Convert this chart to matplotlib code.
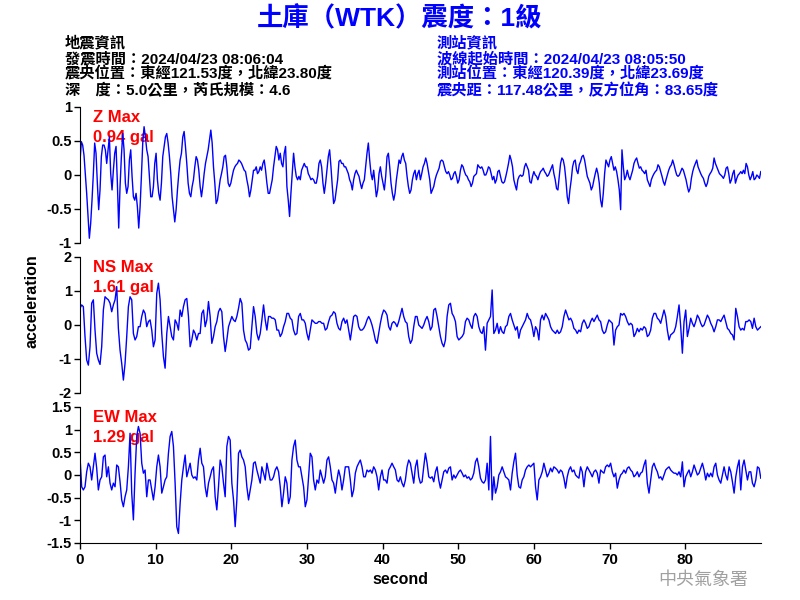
import matplotlib
matplotlib.use('Agg')
import matplotlib.pyplot as plt
import numpy as np

plt.rcParams['font.family'] = ['Liberation Sans', 'Noto Sans CJK TC']
plt.rcParams['axes.unicode_minus'] = False

TITLE = '土庫（WTK）震度：1級'
QUAKE_INFO = ['地震資訊',
              '發震時間：2024/04/23 08:06:04',
              '震央位置：東經121.53度，北緯23.80度',
              '深\u3000度：5.0公里，芮氏規模：4.6']
STATION_INFO = ['測站資訊',
                '波線起始時間：2024/04/23 08:05:50',
                '測站位置：東經120.39度，北緯23.69度',
                '震央距：117.48公里，反方位角：83.65度']

COMPONENTS = ['Z', 'NS', 'EW']
MAX_GAL = ['0.94', '1.61', '1.29']
Y_LIMITS = [1, 2, 1.5]
Y_TICKS = [[1, 0.5, 0, -0.5, -1],
           [2, 1, 0, -1, -2],
           [1.5, 1, 0.5, 0, -0.5, -1, -1.5]]
Y_TICK_LABELS = [['1', '0.5', '0', '-0.5', '-1'],
                 ['2', '1', '0', '-1', '-2'],
                 ['1.5', '1', '0.5', '0', '-0.5', '-1', '-1.5']]
X_TICKS = [0, 10, 20, 30, 40, 50, 60, 70, 80]
DURATION = 90  # seconds shown

# acceleration in gal at even steps over 0-90 s
Z_ACC = [
    0.20, 0.49, 0.44, 0.29, 0.02, -0.27, -0.61, -0.93, -0.71, -0.37,
    0.02, 0.47, 0.32, -0.12, -0.51, -0.22, 0.27, 0.44, 0.44, 0.37,
    0.17, 0.37, 0.56, 0.02, -0.22, 0.07, 0.32, 0.42, -0.12, -0.78,
    -0.17, 0.27, 0.61, 0.37, -0.12, -0.27, -0.17, 0.22, 0.37, -0.02,
    -0.32, -0.37, -0.27, -0.47, -0.78, -0.47, -0.02, 0.47, 0.71, 0.56,
    0.37, 0.27, -0.02, -0.32, -0.32, -0.17, 0.17, 0.32, -0.07, -0.27,
    -0.37, -0.12, 0.27, 0.42, 0.56, 0.61, 0.47, 0.27, 0.02, -0.32,
    -0.51, -0.69, -0.51, -0.22, 0.02, 0.22, 0.32, 0.56, 0.64, 0.42,
    0.17, -0.12, -0.27, -0.32, -0.17, -0.07, 0.12, 0.27, 0.22, 0.07,
    -0.17, -0.32, -0.17, 0.02, 0.17, 0.27, 0.37, 0.51, 0.66, 0.47,
    0.12, -0.12, -0.42, -0.37, -0.22, -0.07, 0.02, 0.12, 0.27, 0.29,
    0.12, -0.12, -0.17, -0.12, -0.02, 0.07, 0.12, 0.15, 0.17, 0.22,
    0.20, 0.17, 0.12, 0.07, 0.05, -0.07, -0.17, -0.32, -0.22, -0.07,
    0.07, 0.07, 0.12, 0.02, 0.05, 0.12, 0.07, 0.17, 0.22, 0.07,
    -0.12, -0.27, -0.27, -0.17, -0.07, 0.12, 0.27, 0.42, 0.37, 0.22,
    0.32, 0.17, 0.12, 0.32, 0.42, -0.17, -0.37, -0.61, -0.27, 0.02,
    0.32, 0.12, -0.02, -0.07, -0.02, -0.07, 0.07, 0.12, 0.17, 0.12,
    0.12, 0.02, -0.02, -0.07, -0.05, -0.07, -0.12, -0.12, -0.02, 0.17,
    0.22, 0.12, -0.12, -0.27, -0.12, 0.07, 0.27, 0.37, 0.12, -0.17,
    -0.42, -0.37, -0.22, -0.07, 0.20, 0.22, 0.17, 0.17, 0.12, 0.12,
    0.07, 0.02, -0.07, -0.12, -0.22, -0.07, 0.02, 0.07, 0.02, -0.02,
    -0.12, -0.20, -0.12, -0.07, 0.12, 0.32, 0.47, 0.22, 0.02, -0.07,
    0.07, -0.12, -0.32, -0.22, 0.02, 0.12, -0.02, -0.12, -0.22, -0.02,
    0.27, 0.32, 0.12, -0.12, -0.27, -0.37, -0.27, -0.07, 0.07, 0.22,
    0.17, 0.27, 0.32, 0.22, 0.17, -0.02, -0.17, -0.27, -0.22, -0.07,
    0.02, 0.07, -0.07, 0.02, 0.07,
    -0.07, 0.02, 0.12, 0.17, 0.25, 0.17, 0.05, -0.07, -0.27, -0.22,
    -0.17, -0.07, 0.00, 0.05, 0.10, 0.20, 0.22, 0.20, 0.12, 0.05,
    0.02, 0.05, 0.00, -0.07, -0.05, 0.02, 0.05, -0.02, -0.12, -0.07,
    0.07, 0.15, 0.12, 0.05, 0.00, -0.02, -0.07, -0.10, -0.17, -0.12,
    -0.02, 0.00, 0.02, 0.15, 0.12, 0.10, 0.12, 0.07, 0.00, 0.00,
    0.05, 0.12, 0.10, 0.02, -0.07, -0.02, -0.12, -0.07, 0.05, 0.07,
    -0.02, -0.10, -0.12, -0.10, -0.02, 0.07, 0.17, 0.29, 0.22, 0.12,
    -0.07, -0.15, -0.22, -0.07, -0.02, 0.00, -0.02, 0.00, 0.12, 0.17,
    0.12, 0.07, -0.10, -0.12, -0.02, 0.05, 0.00, -0.02, -0.07, 0.00,
    0.05, 0.07, 0.10, 0.05, 0.02, -0.02, 0.00, 0.05, 0.10, 0.15,
    0.02, -0.07, -0.20, -0.22, -0.02, 0.17, 0.25, 0.22, 0.12, -0.07,
    -0.32, -0.42, -0.22, -0.07, 0.12, 0.20, 0.22, 0.07, 0.02, 0.15,
    0.20, 0.27, 0.29, 0.22, 0.10, -0.02, -0.07, -0.12, -0.22, -0.17,
    -0.07, 0.02, 0.10, 0.02, -0.12, -0.37, -0.47, -0.27, 0.02, 0.22,
    0.17, 0.12, 0.22, 0.27, 0.17, 0.07, 0.12, 0.05, -0.07, -0.22,
    -0.51, 0.37, 0.12, -0.07, -0.02, 0.07, -0.02, -0.07, 0.00, 0.07,
    0.17, 0.22, 0.25, 0.17, 0.10, 0.12, 0.07, 0.05, 0.02, 0.07,
    -0.07, -0.12, -0.17, -0.07, -0.02, 0.02, 0.05, 0.07, 0.15, 0.12,
    0.05, -0.02, -0.10, -0.15, -0.07, 0.00, 0.07, 0.12, 0.15, 0.22,
    0.15, 0.07, 0.00, -0.02, 0.00, 0.05, 0.10, 0.07, 0.00, -0.07,
    -0.17, -0.25, -0.20, -0.05, 0.05, 0.12, 0.17, 0.22, 0.12, 0.07,
    0.02, -0.02, -0.05, -0.12, -0.17, -0.12, -0.02, 0.02, 0.05, 0.10,
    0.25, 0.17, 0.12, 0.07, 0.02, 0.00, -0.02, -0.05, 0.00, 0.10,
    0.12, 0.02, -0.12, -0.07, 0.02, 0.07, -0.12, -0.05, 0.00, 0.02,
    0.05, 0.02, 0.07, 0.02, 0.17, 0.12, 0.00, -0.07, -0.02, 0.05,
    -0.07, -0.05, 0.00, -0.02, -0.05, 0.05,
]

NS_ACC = [
    0.49, 0.59, 0.54, -0.34, -1.03, -1.18, -0.64, 0.64, 0.74, -0.15,
    -0.83, -1.03, -1.16, -0.64, 0.44, 0.83, 0.78, 0.74, 0.64, 0.39,
    0.59, 0.74, 1.13, -0.10, -0.74, -1.13, -1.62, -1.13, -0.34, 0.54,
    0.83, 0.74, -0.25, -0.44, -0.34, -0.05, -0.05, 0.25, 0.44, 0.34,
    -0.05, 0.10, 0.15, -0.15, -0.64, -0.44, 0.93, 1.23, 0.74, -0.25,
    -0.93, -1.27, -0.25, 0.25, -0.05, -0.34, -0.44, 0.15, 0.05, -0.15,
    0.44, 0.25, 0.54, 0.74, 0.78, 0.25, -0.64, -0.44, -0.15, -0.25,
    -0.44, -0.25, -0.25, 0.34, 0.44, -0.05, 0.15, 0.69, 0.25, -0.54,
    -0.34, -0.05, 0.10, 0.39, 0.49, 0.39, -0.34, -0.78, -0.44, -0.05,
    0.10, 0.25, 0.15, 0.10, 0.25, 0.49, 0.78, 0.64, -0.15, -0.44,
    -0.54, -0.74, -0.69, -0.05, 0.54, 0.25, -0.25, -0.44, -0.25, 0.15,
    0.59, 0.15, -0.15, 0.25, 0.25, 0.20, 0.20, 0.15, -0.15, -0.15,
    -0.34, -0.25, -0.05, 0.10, 0.34, 0.34, 0.20, 0.15, -0.15, -0.29,
    -0.25, 0.25, 0.34, 0.15, 0.15, 0.05, -0.25, -0.44, -0.15, 0.15,
    0.10, 0.05, 0.05, 0.10, 0.10, 0.05, 0.05, -0.15, -0.10, 0.10,
    0.25, 0.29, 0.39, 0.34, 0.05, -0.10, -0.15, 0.10, 0.20, 0.05,
    0.15, -0.15, -0.44, -0.10, 0.25, 0.29, 0.25, -0.05, -0.15, -0.15,
    -0.10, 0.00, 0.15, 0.25, 0.15, 0.00, -0.20, -0.44, -0.54, -0.25,
    0.05, 0.29, 0.44, 0.39, 0.29, -0.05, -0.15, 0.05, 0.10, 0.05,
    -0.05, 0.10, 0.29, 0.49, 0.25, 0.10, 0.05, -0.34, -0.54, -0.44,
    -0.05, 0.25, 0.25, 0.00,
    -0.05, -0.10, 0.00, 0.15, 0.25, 0.10, -0.15, -0.05, 0.44, 0.49,
    0.25, -0.05, -0.34, -0.54, -0.64, -0.44, 0.25, 0.59, 0.64, 0.34,
    0.25, 0.10, -0.34, -0.44, -0.39, -0.34, -0.25, 0.10, 0.20, 0.15,
    0.00, -0.10, 0.25, 0.34, 0.25, -0.05, -0.20, -0.25, -0.05, -0.74,
    0.05, 0.15, 0.25, 1.03, -0.25, -0.15, 0.05, -0.25, -0.05, -0.20,
    -0.25, -0.05, 0.00, 0.25, 0.34, 0.15, 0.00, -0.15, -0.05, -0.39,
    -0.15, -0.05, 0.05, 0.15, 0.34, 0.20, 0.15, -0.05, -0.34, -0.05,
    -0.15, -0.44, 0.15, 0.29, 0.15, 0.34, 0.25, 0.15, -0.05, -0.15,
    -0.20, -0.25, -0.15, -0.25, -0.20, -0.05, 0.25, 0.44, 0.29, 0.15,
    0.20, 0.10, -0.10, -0.15, -0.25, -0.15, -0.20, 0.05, 0.15, 0.05,
    -0.10, -0.05, 0.10, 0.20, 0.10, 0.20, 0.29, 0.15, 0.10, -0.15,
    -0.25, -0.20, 0.00, 0.15, 0.10, 0.05, -0.59, -0.15, -0.05, 0.00,
    0.34, 0.29, 0.34, 0.25, 0.10, 0.00, 0.05, 0.00, -0.34, -0.25,
    -0.10, -0.20, -0.10, -0.15, -0.05, -0.10, -0.34, -0.29, -0.15, 0.20,
    0.34, 0.34, 0.20, 0.15, 0.05, 0.25, 0.44, 0.25, -0.15, -0.44,
    -0.29, -0.25, -0.20, -0.05, 0.25, 0.59, -0.05, -0.83, 0.10, 0.44,
    -0.34, -0.10, 0.20, 0.05, -0.05, 0.10, 0.29, 0.20, 0.05, -0.05,
    0.00, 0.15, 0.29, 0.20, 0.05, -0.05, -0.20, -0.05, 0.15, 0.15,
    0.10, 0.20, 0.29, 0.10, -0.10, -0.15, -0.25, -0.29, -0.44, 0.49,
    0.25, -0.05, -0.15, -0.10, -0.15, 0.10, 0.10, 0.15, 0.10, -0.10,
    0.20, -0.05, -0.15, -0.10, -0.05,
]

EW_ACC = [
    0.40, -0.26, -0.33, -0.26, 0.07, 0.26, 0.18, -0.11, 0.18, 0.48,
    0.15, -0.33, -0.11, -0.04, 0.40, 0.44, -0.04, 0.18, -0.18, -0.33,
    -0.18, -0.26, 0.22, 0.18, -0.15, -0.55, -0.70, -0.48, -0.33, 0.18,
    0.92, -0.40, -0.99, 0.04, 0.85, 1.07, 0.92, 0.26, 0.04, 0.11,
    -0.48, -0.11, -0.11, -0.33, -0.55, -0.26, 0.18, 0.44, 0.18, -0.40,
    -0.26, -0.11, -0.04, 0.48, 0.85, 0.96, 0.63, -0.18, -1.14, -1.29,
    -0.63, -0.11, 0.18, 0.44, -0.04, 0.11, 0.26, 0.00, -0.07, -0.04,
    -0.11, 0.33, 0.59, 0.26, 0.18, -0.26, -0.48, -0.18, -0.04, 0.11,
    0.18, -0.48, -0.77, -0.26, 0.33, 0.18, -0.18, -0.48, 0.63, 0.85,
    0.77, -0.18, -0.55, -1.14, -0.55, 0.48, 0.55, 0.40, 0.33, 0.18,
    -0.26, -0.55, -0.33, -0.11, 0.26, 0.29, 0.11, -0.04, -0.18, 0.18,
    0.04, -0.11, 0.26, 0.07, -0.11, -0.11, -0.04, 0.11, 0.18, 0.07,
    -0.26, -0.70, -0.40, -0.04, -0.18, -0.63, -0.48, 0.33, 0.63, 0.77,
    0.33, 0.18, 0.18, -0.04, -0.26, -0.70, -0.55, -0.04, 0.48, 0.40,
    -0.11, -0.33, -0.11, -0.18, 0.11, -0.04, -0.18, -0.04, 0.33, 0.40,
    0.18, -0.11, -0.18, -0.40, -0.11, 0.11, -0.04, -0.33, -0.11, 0.18,
    0.18, 0.18, -0.11, -0.48, -0.33, 0.04, 0.18, 0.26, 0.33, 0.18,
    -0.04, -0.04, 0.11, 0.07, 0.11, 0.04, 0.18, 0.11, -0.04, -0.33,
    -0.04, 0.11, -0.11, -0.11, -0.18, 0.11, 0.18, 0.26, 0.18, 0.11,
    -0.11, -0.15, -0.04, -0.18, -0.26, -0.11, 0.18, 0.33, 0.26, 0.04,
    -0.18, 0.18, 0.33, -0.04,
    -0.18, -0.15, 0.18, 0.48, 0.26, -0.04, -0.07, -0.04, -0.15, 0.07,
    0.18, -0.11, -0.29, -0.11, 0.07, 0.11, 0.04, 0.15, 0.18, -0.11,
    0.00, -0.07, 0.00, 0.07, 0.11, 0.04, -0.04, 0.00, -0.07, -0.04,
    -0.11, -0.07, 0.04, 0.29, 0.37, 0.18, -0.07, -0.15, -0.18, -0.11,
    0.26, -0.33, 0.85, -0.55, -0.04, -0.40, -0.26, 0.00, 0.07, 0.18,
    0.07, -0.04, -0.07, -0.11, -0.33, 0.04, 0.29, 0.48, 0.00, -0.26,
    -0.29, -0.11, -0.04, 0.11, 0.18, 0.22, 0.18, 0.22, 0.26, -0.26,
    -0.55, -0.11, -0.04, 0.07, 0.26, 0.11, -0.04, 0.04, 0.15, 0.07,
    0.18, 0.15, 0.11, 0.04, 0.11, 0.07, -0.07, -0.29, -0.04, 0.11,
    0.18, 0.07, 0.11, 0.00, -0.04, -0.07, 0.18, 0.07, -0.26, 0.07,
    0.18, 0.11, 0.04, -0.04, 0.07, 0.11, 0.04, -0.18, 0.11, 0.07,
    0.04, 0.18, 0.22, 0.18, 0.26, 0.07, -0.04, 0.04, -0.29, -0.11,
    0.00, 0.04, 0.11, 0.04, 0.15, 0.18, 0.11, 0.07, -0.04, 0.00,
    0.07, -0.04, 0.04, 0.07, 0.22, 0.33, -0.18, -0.40, -0.11, 0.18,
    0.26, 0.15, 0.07, -0.07, -0.04, -0.11, 0.00, 0.11, 0.15, 0.18,
    0.11, 0.07, 0.04, 0.04, 0.00, 0.07, -0.04, 0.29, -0.26, -0.04,
    0.04, 0.11, -0.04, 0.07, 0.22, 0.11, 0.00, 0.04, 0.15, 0.26,
    0.11, -0.11, 0.04, -0.04, 0.04, -0.04, 0.18, 0.26, 0.00, -0.11,
    -0.18, 0.00, 0.18, 0.00, -0.11, 0.18, 0.07, -0.15, -0.40, -0.04,
    0.18, 0.33, -0.33, 0.18, 0.33, 0.11, -0.11, 0.07, 0.07, -0.18,
    -0.26, -0.11, 0.18, 0.15, -0.07,
]

TRACES = [Z_ACC, NS_ACC, EW_ACC]


def draw_seismogram():
    fig = plt.figure(figsize=(8, 6), dpi=100)

    # three stacked panels, pixel layout taken from the original
    bottoms = [0.595, 0.345, 0.095]
    axes = [fig.add_axes([0.1, b, 0.851, 0.2267]) for b in bottoms]

    for i, ax in enumerate(axes):
        acc = np.array(TRACES[i])
        t = np.linspace(0, DURATION, len(acc))
        ax.plot(t, acc, color='#0000ff', lw=1.0, zorder=2)

        ax.set_xlim(0, DURATION)
        ax.set_ylim(-Y_LIMITS[i], Y_LIMITS[i])
        ax.set_yticks(Y_TICKS[i], Y_TICK_LABELS[i], fontsize=10.5, fontweight='bold')
        ax.tick_params(axis='y', direction='out', length=4, width=1, pad=2)

        for side in ['top', 'right']:
            ax.spines[side].set_visible(False)
        if i < 2:
            ax.spines['bottom'].set_visible(False)
            ax.set_xticks([])
        else:
            ax.set_xticks(X_TICKS, [str(x) for x in X_TICKS], fontsize=11, fontweight='bold')
            ax.tick_params(axis='x', direction='out', length=4, width=1, pad=3)

        ax.text(0.019, 0.919, COMPONENTS[i] + ' Max', transform=ax.transAxes,
                color='red', fontsize=12, fontweight='bold', va='center', zorder=1)
        ax.text(0.019, 0.779, MAX_GAL[i] + ' gal', transform=ax.transAxes,
                color='red', fontsize=12, fontweight='bold', va='center', zorder=1)

    fig.text(0.5, 1 - 19 / 600, TITLE, ha='center', va='center', fontsize=19,
             fontweight='bold', color='#0000ff')

    line_y = [43, 59, 74, 90]
    for y, left, right in zip(line_y, QUAKE_INFO, STATION_INFO):
        fig.text(65 / 800, 1 - y / 600, left, va='center', fontsize=11,
                 fontweight='bold', color='black')
        fig.text(437 / 800, 1 - y / 600, right, va='center', fontsize=11,
                 fontweight='bold', color='#0000ff')

    fig.text(0.04, 1 - 301 / 600, 'acceleration', rotation=90, ha='center',
             va='center', fontsize=11.5, fontweight='bold')
    fig.text(0.5, 1 - 580 / 600, 'second', ha='center', va='center',
             fontsize=11.5, fontweight='bold')
    fig.text(748 / 800, 1 - 580 / 600, '中央氣象署', ha='right', va='center',
             fontsize=13, color='#a0a0a0', family=['Noto Sans CJK TC'])

    fig.savefig('out.png', dpi=100)


draw_seismogram()
